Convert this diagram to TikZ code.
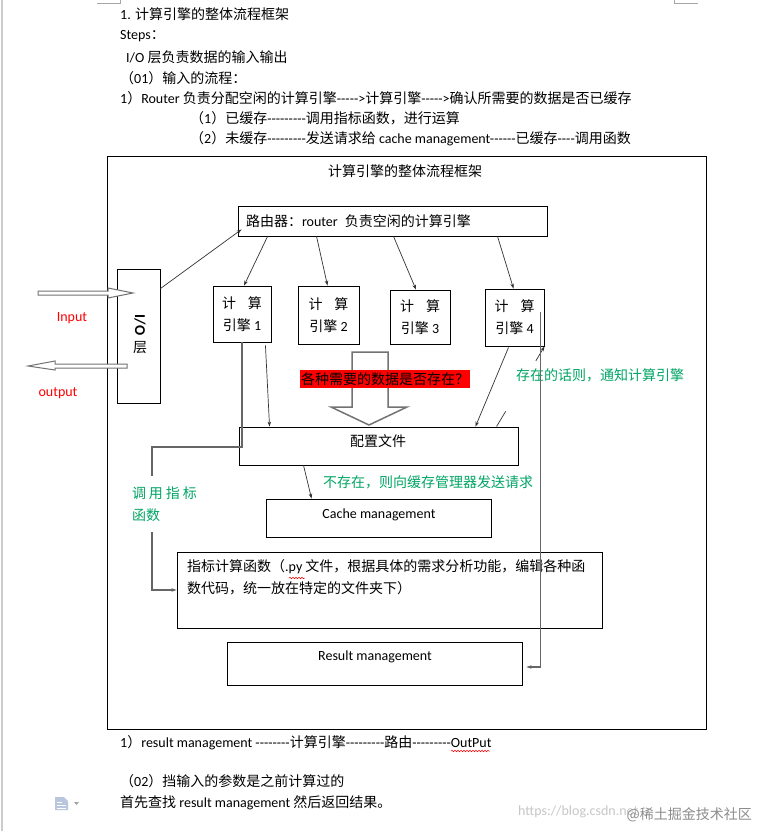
\documentclass[tikz,border=0pt]{standalone}
\usepackage{fontspec}
\setmainfont{Noto Sans CJK SC}
\newfontfamily\latf{Carlito}
\newcommand\LT[1]{{\latf #1}}
\usetikzlibrary{arrows.meta,calc,decorations.pathmorphing}
\definecolor{wgreen}{RGB}{0,165,100}
\definecolor{iconblue}{RGB}{185,198,222}
\begin{document}
\begin{tikzpicture}[x=1pt,y=-1pt,
  every node/.style={font=\fontsize{14pt}{22pt}\selectfont, inner sep=0pt},
  box/.style={draw=black, line width=0.9pt},
  txt/.style={anchor=west},
  arr/.style={draw=black!80, line width=0.7pt, -{Stealth[length=5pt,width=3.5pt]}},
  gline/.style={draw=black!60, line width=1.1pt, -{Stealth[length=5pt,width=3.5pt]}},
  hollow/.style={draw=black!55, line width=1pt, fill=white, line join=miter},
  wavy/.style={draw=red, line width=0.5pt, decorate, decoration={snake, amplitude=0.8pt, segment length=3pt}}
]
\useasboundingbox (0,0) rectangle (759,831);
\fill[white] (0,0) rectangle (759,831);
% page chrome
\draw[black!20, line width=2pt] (1.5,0) -- (1.5,831);
\draw[black!35, line width=0.6pt] (97,3) -- (120,3) -- (120,0);
\draw[black!35, line width=0.6pt] (674,0) -- (674,3) -- (698,3);

% top text
\node[txt] (t1) at (120,14) {\LT{1.} 计算引擎的整体流程框架};
\node[txt] (t2) at (120,36) {\LT{Steps}：};
\node[txt] (t3) at (126,57) {\LT{I/O} 层负责数据的输入输出};
\node[txt] (t4) at (120,78) {（\LT{01}）输入的流程：};
\node[txt] (t5) at (120,98) {\LT{1}）\LT{Router }负责分配空闲的计算引擎\LT{----->}计算引擎\LT{----->}确认所需要的数据是否已缓存};
\node[txt] (t6) at (190,118) {（\LT{1}）已缓存\LT{---------}调用指标函数，进行运算};
\node[txt] (t7) at (190,139) {（\LT{2}）未缓存\LT{---------}发送请求给 \LT{cache management------}已缓存\LT{----}调用函数};

% frame
\node[box, minimum width=599pt, minimum height=573pt] (frame) at (406.5,442.5) {};
\node (title) at (405,171) {计算引擎的整体流程框架};

% boxes
\node[box, minimum width=309pt, minimum height=30pt, text width=293pt, align=left, inner xsep=8pt] (router) at (392.5,221) {路由器：\LT{router}\, 负责空闲的计算引擎};
\node[box, minimum width=43pt, minimum height=134pt] (io) at (138.5,336) {};
\node[rotate=-90, font=\fontsize{15pt}{18pt}\selectfont\bfseries] (iot) at (140,325) {\LT{I/O}};
\node (ioc) at (140,348) {层};
\node[box, minimum width=58pt, minimum height=56pt, align=center] (e1) at (242,314) {计\hspace{12pt}算\\引擎 \LT{1}};
\node[box, minimum width=61pt, minimum height=58pt, align=center] (e2) at (328.5,315) {计\hspace{12pt}算\\引擎 \LT{2}};
\node[box, minimum width=60pt, minimum height=54pt, align=center] (e3) at (420,317) {计\hspace{12pt}算\\引擎 \LT{3}};
\node[box, minimum width=59pt, minimum height=57pt, align=center] (e4) at (514.5,317.5) {计\hspace{12pt}算\\引擎 \LT{4}};

% big hollow arrow
\draw[hollow, line width=1.5pt] (352,352) -- (388,352) -- (388,407) -- (407,407) -- (369,425) -- (331,407) -- (352,407) -- cycle;
\node[fill=red, inner xsep=1pt, inner ysep=2pt] (ask) at (385,379) {各种需要的数据是否存在？};

\node[box, minimum width=279pt, minimum height=38pt] (config) at (378.5,446) {};
\node (configt) at (378,441) {配置文件};
\node[box, minimum width=225pt, minimum height=38pt] (cache) at (378.5,518) {};
\node (cachet) at (379,515) {\LT{Cache management}};
\node[box, minimum width=425pt, minimum height=76pt] (func) at (389.5,590) {};
\node[anchor=north west, align=left] (funct) at (187,559) {指标计算函数（\LT{.py} 文件，根据具体的需求分析功能，编辑各种函\\数代码，统一放在特定的文件夹下）};
\draw[wavy] (289,578) -- (305,578);
\node[box, minimum width=295pt, minimum height=43pt] (result) at (374.5,663.5) {};
\node (resultt) at (375,657) {\LT{Result management}};

% labels
\node[text=wgreen, anchor=west] (exist) at (516,375) {存在的话则，通知计算引擎};
\node[text=wgreen, anchor=west] (notexist) at (323,482) {不存在，则向缓存管理器发送请求};
\node[text=red] (inlab) at (72,318) {\LT{Input}};
\node[text=red] (outlab) at (58,393) {\LT{output}};

% connectors
\draw[arr] ($(io.north east)+(0,20)$) -- ($(router.south west)+(4,-7)$);
\draw[arr] ($(router.south west)+(30,0)$) -- ($(e1.north)+(2,0)$);
\draw[arr] ($(router.south west)+(79,0)$) -- ($(e2.north)+(-1,0)$);
\draw[arr] ($(router.south west)+(156,0)$) -- ($(e3.north)+(-4,0)$);
\draw[arr] ($(router.south west)+(260,0)$) -- ($(e4.north)+(-1,0)$);
\draw[arr] ($(e1.south east)+(-6,3)$) -- ($(config.north west)+(31,0)$);
\draw[arr] ($(e4.south)+(-6,1)$) -- ($(config.north east)+(-43,0)$);
\draw[arr] ($(config.south west)+(65,0)$) -- ($(cache.north west)+(46,0)$);
\coordinate (ra) at ($(config.north west)+(258,0)$);
\draw[arr] (ra) -- ($(ra)!0.19!(e4.south east)$) ($(ra)!0.82!(e4.south east)$) -- (e4.south east);

\draw[gline] (e1.south) |- (152,447) |- (func.west);
\node[text=wgreen, fill=white, align=left, text width=66pt, minimum height=56pt] (call) at (165,504) {调\hspace{3pt}用\hspace{3pt}指\hspace{3pt}标\\函数};

\coordinate (v4) at ($(e4.south east)+(-4,-34)$);
\coordinate (rr) at ($(result.east)+(4,3.5)$);
\draw[gline] (v4) |- (rr);

% I/O hollow arrows
\draw[hollow] (38,291) -- (108,291) -- (108,288) -- (133,293) -- (108,298) -- (108,295) -- (38,295) -- cycle;
\draw[hollow] (127,364) -- (55,364) -- (55,361) -- (28,366) -- (55,370) -- (55,368) -- (127,368) -- cycle;

% bottom text
\node[txt] (b1) at (120,743) {\LT{1}）\LT{result management --------}计算引擎\LT{---------}路由\LT{---------OutPut}};
\draw[wavy] (451,751) -- (490,751);
\node[txt] (b2) at (120,781) {（\LT{02}）挡输入的参数是之前计算过的};
\node[txt] (b3) at (120,803) {首先查找 \LT{result management} 然后返回结果。};

% doc icon
\fill[iconblue] (55,797) -- (64,797) -- (68,801) -- (68,810) -- (55,810) -- cycle;
\draw[white, line width=0.8pt] (57,802) -- (62,802) (57,805) -- (66,805) (57,808) -- (66,808);
\fill[black!35] (74,802) -- (79,802) -- (76.5,805) -- cycle;

% watermark
\node[txt, text=black!22] (wm1) at (518,812) {\LT{https://blog.csdn.net}};
\node[anchor=east, text=black!45] (wm2) at (752,815) {@稀土掘金技术社区};
\end{tikzpicture}
\end{document}
